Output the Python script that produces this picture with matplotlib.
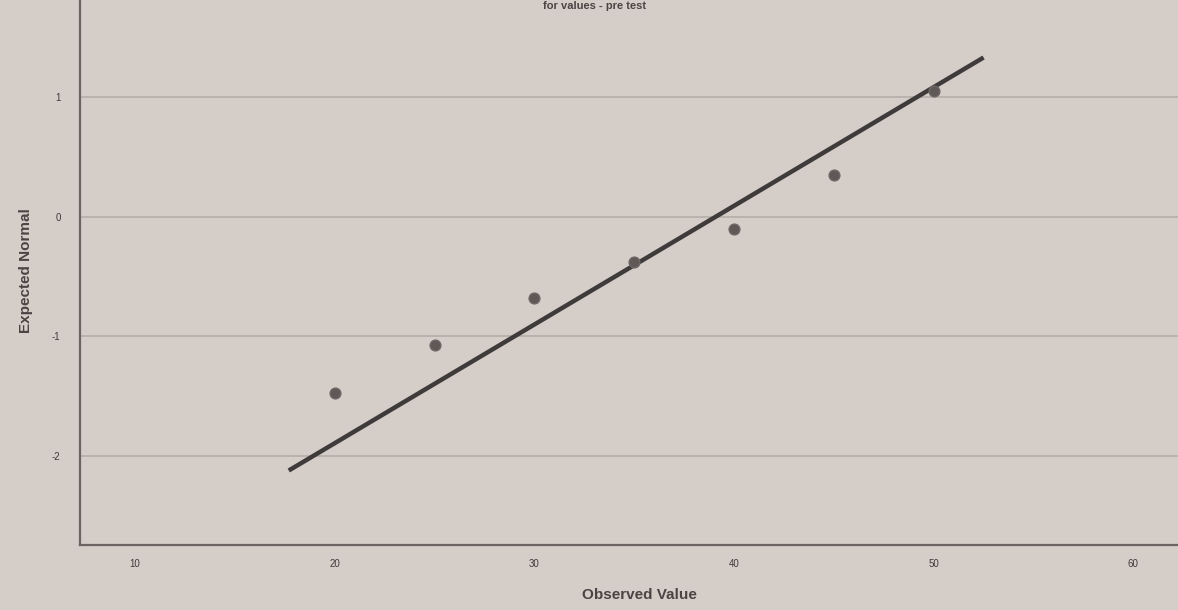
import numpy as np
import matplotlib
matplotlib.use("Agg")
import matplotlib.pyplot as plt

# Observed scores and their expected normal quantiles
observed = [20, 25, 30, 35, 40, 45, 50]
expected = [-1.47, -1.07, -0.68, -0.38, -0.10, 0.35, 1.05]

# Reference line parameters (z = (x - mean) / sd) and its drawn range
line_mean = 39.1
line_sd = 10.1
line_range = [17.7, 52.5]

x_ticks = [10, 20, 30, 40, 50, 60]
y_ticks = [-2, -1, 0, 1]

title_text = "for values - pre test"
x_label = "Observed Value"
y_label = "Expected Normal"

bg = "#d4cdc8"
ink = "#4a4544"

plt.rcParams["font.family"] = ["Liberation Sans", "DejaVu Sans"]

fig = plt.figure(figsize=(11.78, 6.10), dpi=100, facecolor=bg)
ax = fig.add_axes([0.068, 0.1066, 0.95, 0.90])
ax.set_facecolor(bg)

ax.set_xlim(7.25, 63.3)
ax.set_ylim(-2.74, 1.84)

# horizontal grid lines
for yv in y_ticks:
    ax.axhline(yv, color="#b9b2ad", lw=1.4, zorder=1)

# normal reference line
lx = np.array(line_range)
ly = (lx - line_mean) / line_sd
ax.plot(lx, ly, color="#3f3b3b", lw=3.2, solid_capstyle="butt", zorder=3)

# data points
ax.scatter(observed, expected, s=60, color="#5e5957", edgecolors="#6d6866",
           linewidths=1.0, zorder=4)

for side in ["top", "right"]:
    ax.spines[side].set_visible(False)
for side in ["left", "bottom"]:
    ax.spines[side].set_color("#6a6563")
    ax.spines[side].set_linewidth(1.6)

ax.set_xticks(x_ticks)
ax.set_yticks(y_ticks)
ax.set_xticklabels([str(v) for v in x_ticks])
ax.set_yticklabels([str(v) for v in y_ticks])
ax.tick_params(axis="both", length=0, labelsize=7, labelcolor="#3f3b3b")
ax.tick_params(axis="x", pad=10)
ax.tick_params(axis="y", pad=14)

ax.set_xlabel(x_label, fontsize=11, fontweight="bold", color=ink, labelpad=14)
ax.set_ylabel(y_label, fontsize=11, fontweight="bold", color=ink, labelpad=14)

fig.text(0.505, 0.999, title_text, ha="center", va="top", fontsize=8,
         fontweight="bold", color=ink)

fig.savefig("out.png", dpi=100, facecolor=bg)
